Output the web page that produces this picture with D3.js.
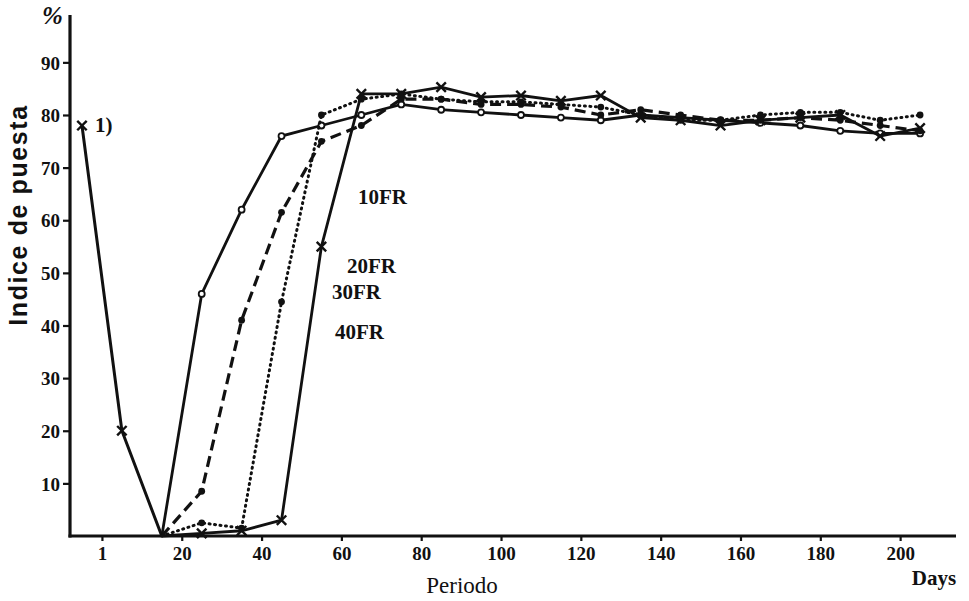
<!DOCTYPE html>
<html>
<head>
<meta charset="utf-8">
<script src="https://cdn.jsdelivr.net/npm/d3@7"></script>
<style>
  body { margin: 0; background: #fff; }
  svg text { fill: #111; }
</style>
</head>
<body>
<div id="chart"></div>
<script>
// Days of each reading (every 10 days)
const days = [15, 25, 35, 45, 55, 65, 75, 85, 95, 105, 115, 125, 135, 145, 155, 165, 175, 185, 195, 205];

// Common decline before the treatments split
const startDays = [-5, 5, 15];
const startValues = [78, 20, 0];

// Laying index per group
const fr10 = [0, 46, 62, 76, 78, 80, 82, 81, 80.5, 80, 79.5, 79, 80, 79.5, 79, 78.5, 78, 77, 76.5, 76.5];
const fr20 = [0, 8.5, 41, 61.5, 75, 78, 83, 83, 82, 82, 81.5, 80, 81, 80, 79, 79, 79.5, 79, 78, 77];
const fr30 = [0, 2.5, 1.5, 44.5, 80, 83, 84, 83, 82.5, 82.5, 82, 81.5, 80, 79, 79, 80, 80.5, 80.5, 79, 80];
const fr40 = [0, 0.5, 1, 3, 55, 84, 84, 85.3, 83.4, 83.7, 82.7, 83.7, 79.5, 79, 78, 79, 79.5, 80, 76, 77.5];

const seriesNames = ["10FR", "20FR", "30FR", "40FR"];

// Axis ticks
const xTickDays = [0, 20, 40, 60, 80, 100, 120, 140, 160, 180, 200];
const xTickLabels = ["1", "20", "40", "60", "80", "100", "120", "140", "160", "180", "200"];
const yTicks = [10, 20, 30, 40, 50, 60, 70, 80, 90];

const W = 969, H = 601;

const svg = d3.select("#chart")
  .append("svg")
  .attr("width", W)
  .attr("height", H);

const x = d3.scaleLinear().domain([-8, 214]).range([70, 956]);
const y = d3.scaleLinear().domain([0, 99]).range([536, 15]);

const serif = "'Liberation Serif', 'DejaVu Serif', serif";

// axes
const yAxis = svg.append("g")
  .attr("transform", "translate(70,0)")
  .call(d3.axisLeft(y).tickValues(yTicks).tickSize(7).tickPadding(3).tickSizeOuter(0));
yAxis.select(".domain").remove();
yAxis.selectAll("line").attr("stroke", "#111").attr("stroke-width", 2.2);
yAxis.selectAll("text")
  .style("font-family", serif)
  .style("font-weight", "bold")
  .style("font-size", "19px")
  .attr("dy", "0.35em");

const xAxis = svg.append("g")
  .attr("transform", "translate(0,536)")
  .call(d3.axisBottom(x).tickValues(xTickDays).tickFormat((d, i) => xTickLabels[i])
    .tickSize(5).tickPadding(6).tickSizeOuter(0));
xAxis.select(".domain").remove();
xAxis.selectAll("line").attr("stroke", "#111").attr("stroke-width", 2.2);
xAxis.selectAll("text")
  .style("font-family", serif)
  .style("font-weight", "bold")
  .style("font-size", "19px");

// axis lines
svg.append("line")
  .attr("x1", 70).attr("x2", 70)
  .attr("y1", y(99)).attr("y2", y(0) + 1.5)
  .attr("stroke", "#111").attr("stroke-width", 3.2);
svg.append("line")
  .attr("x1", 68.5).attr("x2", x(214))
  .attr("y1", y(0)).attr("y2", y(0))
  .attr("stroke", "#111").attr("stroke-width", 3.2);

// lines
const line = d3.line()
  .x(d => x(d[0]))
  .y(d => y(d[1]));

const startData = startDays.map((d, i) => [d, startValues[i]]);
svg.append("path")
  .datum(startData)
  .attr("fill", "none")
  .attr("stroke", "#111")
  .attr("stroke-width", 3)
  .attr("d", line);

const styles = [
  { dash: null, width: 2.8, marker: "circle" },
  { dash: "11,6", width: 3.2, marker: "dot" },
  { dash: "1,4.5", width: 3, marker: "dot" },
  { dash: null, width: 2.8, marker: "cross" }
];

const allSeries = [fr10, fr20, fr30, fr40];

allSeries.forEach((vals, si) => {
  const data = days.map((d, i) => [d, vals[i]]);
  const st = styles[si];
  svg.append("path")
    .datum(data)
    .attr("fill", "none")
    .attr("stroke", "#111")
    .attr("stroke-width", st.width)
    .attr("stroke-linecap", st.dash && st.dash.startsWith("1,") ? "round" : "butt")
    .attr("stroke-dasharray", st.dash)
    .attr("d", line);

  const g = svg.append("g");
  if (st.marker === "circle") {
    g.selectAll("circle").data(data.slice(1)).join("circle")
      .attr("cx", d => x(d[0])).attr("cy", d => y(d[1]))
      .attr("r", 3).attr("fill", "#fff").attr("stroke", "#111").attr("stroke-width", 1.8);
  } else if (st.marker === "dot") {
    g.selectAll("circle").data(data.slice(1)).join("circle")
      .attr("cx", d => x(d[0])).attr("cy", d => y(d[1]))
      .attr("r", 3.4).attr("fill", "#111");
  } else {
    g.selectAll("path").data(data.slice(1)).join("path")
      .attr("transform", d => `translate(${x(d[0])},${y(d[1])})`)
      .attr("d", d3.symbol(d3.symbolX, 60)())
      .attr("fill", "none")
      .attr("stroke", "#111")
      .attr("stroke-width", 2.4);
  }
});

// markers on the common start
svg.append("g").selectAll("path").data(startData.slice(0, 2)).join("path")
  .attr("transform", d => `translate(${x(d[0])},${y(d[1])})`)
  .attr("d", d3.symbol(d3.symbolX, 60)())
  .attr("fill", "none")
  .attr("stroke", "#111")
  .attr("stroke-width", 2.4);

// series labels
const labelPos = [[358, 204], [347, 273], [332, 299], [335, 339]];
svg.append("g").selectAll("text").data(seriesNames).join("text")
  .attr("x", (d, i) => labelPos[i][0])
  .attr("y", (d, i) => labelPos[i][1])
  .style("font-family", serif)
  .style("font-weight", "bold")
  .style("font-size", "21px")
  .text(d => d);

svg.append("text")
  .attr("x", 95).attr("y", 132)
  .style("font-family", serif).style("font-weight", "bold").style("font-size", "21px")
  .text("1)");

// titles
svg.append("text")
  .attr("x", 42).attr("y", 24)
  .style("font-family", serif).style("font-weight", "bold").style("font-style", "italic")
  .style("font-size", "25px")
  .text("%");

svg.append("text")
  .attr("transform", "translate(27,215) rotate(-90)")
  .attr("text-anchor", "middle")
  .style("font-family", "'Liberation Sans', Arial, sans-serif")
  .style("font-weight", "bold")
  .style("font-size", "25px")
  .style("letter-spacing", "1.6px")
  .text("Indice de puesta");

svg.append("text")
  .attr("x", 462).attr("y", 593)
  .attr("text-anchor", "middle")
  .style("font-family", serif).style("font-size", "23px")
  .text("Periodo");

svg.append("text")
  .attr("x", 934).attr("y", 585)
  .attr("text-anchor", "middle")
  .style("font-family", serif).style("font-weight", "bold").style("font-size", "21px")
  .text("Days");
</script>
</body>
</html>
